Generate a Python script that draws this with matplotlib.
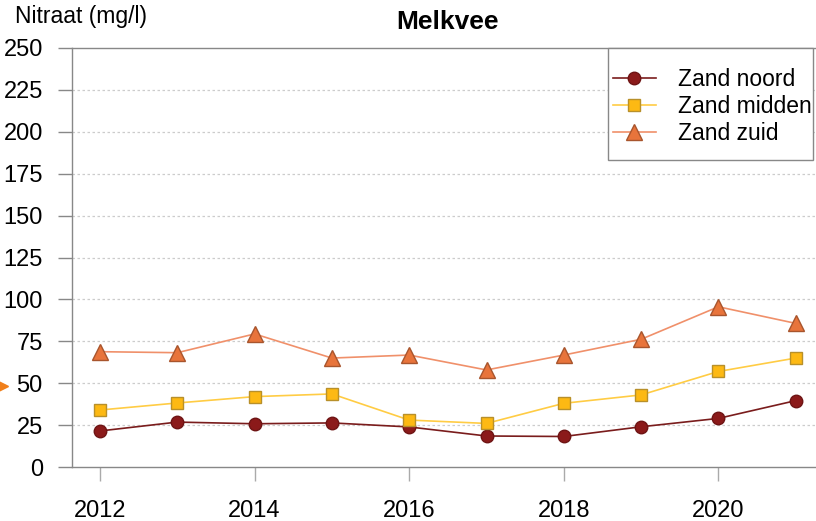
import matplotlib.pyplot as plt
from matplotlib.patches import Rectangle

plt.rcParams['font.family'] = ['Liberation Sans', 'DejaVu Sans']

jaren = [2012, 2013, 2014, 2015, 2016, 2017, 2018, 2019, 2020, 2021]
zand_noord = [21.5, 26.8, 25.8, 26.3, 23.9, 18.5, 18.2, 24.0, 29.0, 39.6]
zand_midden = [34.0, 38.2, 42.0, 43.6, 28.0, 26.0, 38.0, 43.0, 57.0, 65.0]
zand_zuid = [68.8, 68.2, 79.4, 65.0, 66.8, 57.9, 66.8, 76.2, 95.6, 85.7]

W, H = 816, 521
x0, y0, x1, y1 = 72, 48, 816, 467  # plotgebied in pixels

fig = plt.figure(figsize=(W / 100, H / 100), dpi=100)
ax = fig.add_axes([x0 / W, 1 - y1 / H, (x1 - x0) / W, (y1 - y0) / H])


def ax_xy(px, py):
    return (px - x0) / (x1 - x0), (y1 - py) / (y1 - y0)


ax.plot(jaren, zand_noord, color='#7a1c1c', lw=1.2, marker='o', ms=9,
        mfc='#8b1a1a', mec='#6e1414', label='Zand noord', zorder=3)
ax.plot(jaren, zand_midden, color='#ffcc44', lw=1.2, marker='s', ms=8,
        mfc='#fdb913', mec='#b8902a', label='Zand midden', zorder=3)
ax.plot(jaren, zand_zuid, color='#f0906a', lw=1.2, marker='^', ms=11,
        mfc='#e8743b', mec='#a8552d', label='Zand zuid', zorder=3)

ax.set_xlim(2012 - 28 / 77.3, 2012 + 716 / 77.3)
ax.set_ylim(0, 250)
ax.set_xticks([2012, 2014, 2016, 2018, 2020])
ax.set_yticks(range(0, 251, 25))

for y in range(25, 250, 25):
    ax.axhline(y, color='#cccccc', lw=0.9, ls=(0, (2, 2)), zorder=1)

ax.spines['right'].set_visible(False)
for s in ['left', 'bottom', 'top']:
    ax.spines[s].set_color('#888888')
    ax.spines[s].set_linewidth(1.0)

ax.tick_params(axis='y', length=10, width=1.0, color='#888888', pad=11,
               labelsize=17)
ax.tick_params(axis='x', length=10, width=1.0, color='#aaaaaa', pad=14,
               labelsize=17)

# legendakader
bx0, by0 = ax_xy(608, 160)
bx1, by1 = ax_xy(813, 48)
ax.add_patch(Rectangle((bx0, by0), bx1 - bx0, by1 - by0, transform=ax.transAxes,
                       facecolor='white', edgecolor='#888888', lw=1.0,
                       zorder=4, clip_on=False))

lx, ly = ax_xy(613, 68.5)
leg = ax.legend(loc='upper left', bbox_to_anchor=(lx, ly), borderaxespad=0,
                borderpad=0, fontsize=16.5, frameon=False,
                handlelength=1.87, handletextpad=0.95, labelspacing=0.17)
leg.set_zorder(5)

fig.text(447 / W, 1 - 22 / H, 'Melkvee', ha='center', va='center',
         fontsize=19, fontweight='bold')
fig.text(15 / W, 1 - 17 / H, 'Nitraat (mg/l)', ha='left', va='center',
         fontsize=16.5)

# klein oranje pijltje links
fig.lines.append(plt.Line2D([3 / W], [1 - 386 / H], marker='>',
                            ms=7, color='#f07f1a', mec='#f07f1a',
                            transform=fig.transFigure))

fig.savefig('out.png', dpi=100)
